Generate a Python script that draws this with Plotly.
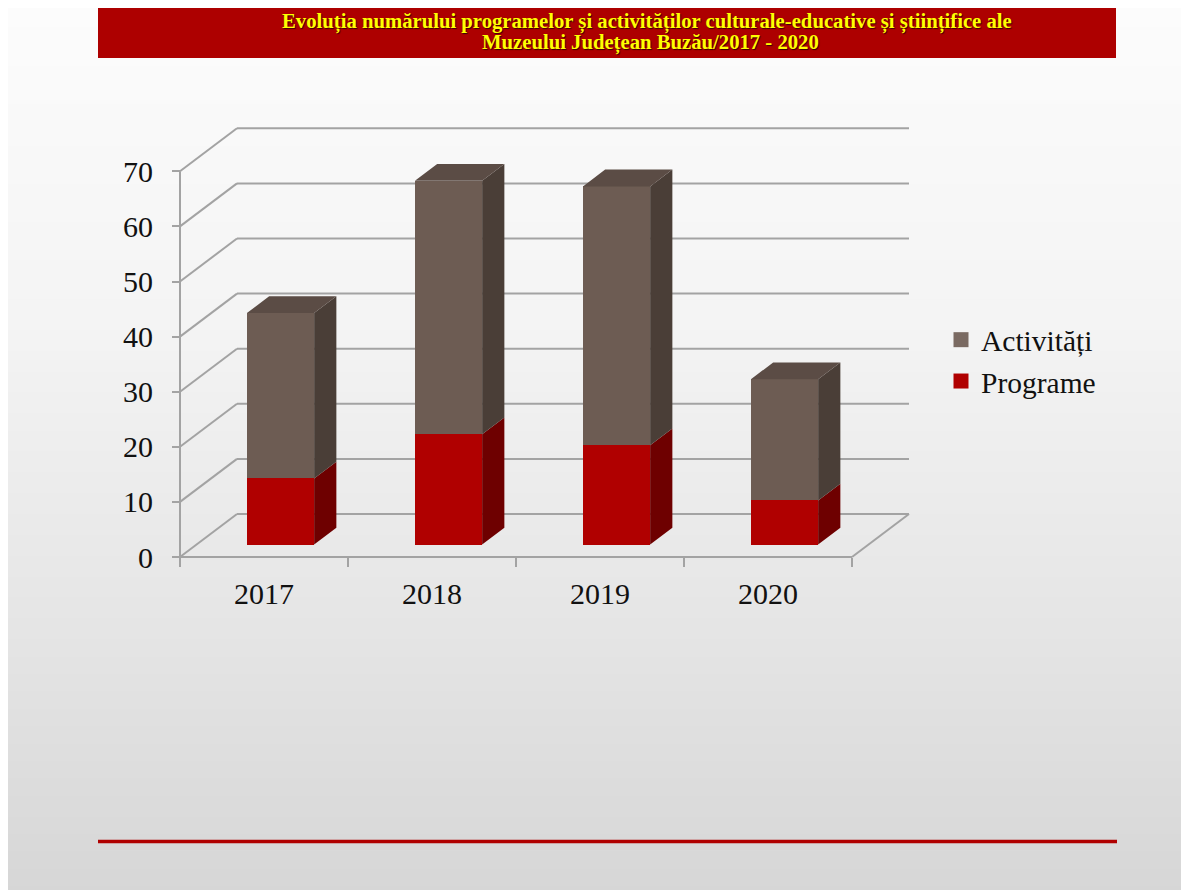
import struct, zlib, base64
import plotly.graph_objects as go

# ---------------- data ----------------
years = ["2017", "2018", "2019", "2020"]
programe = [12, 20, 18, 8]
activitati = [30, 46, 47, 22]
y_ticks = [0, 10, 20, 30, 40, 50, 60, 70]
title_lines = ["Evoluția numărului programelor și activităților culturale-educative și științifice ale",
               "Muzeului Județean Buzău/2017 - 2020"]

# ---------------- geometry / style ----------------
W_PX, H_PX = 1189, 890
OFF = 8.0         # page body margin: figure pixel = screen pixel - OFF
PX_X = 168.0      # pixels per category
PX_Y = 5.51       # pixels per value unit
ORIG_X, ORIG_Y = 180.0 - OFF, 557.0 - OFF   # front-axis origin (figure px)
DX = 57.0 / PX_X  # back-wall shift (x units)
DY = 43.0 / PX_Y  # back-wall shift (y units)
ZF = 0.29         # depth of bar front faces
ZD = 0.39         # bar depth
BW = 0.40         # bar width (category units)

C_ACT, C_ACT_SIDE, C_ACT_TOP = "#6d5c53", "#4a3e37", "#5b4c45"
C_PRO, C_PRO_SIDE = "#b00000", "#6e0000"
GRID = "#a3a3a3"
FONT = "Liberation Serif, Times New Roman, serif"


def sx(px):  # screen x -> paper
    return (px - OFF) / W_PX


def sy(py):  # screen y -> paper
    return 1 - (py - OFF) / H_PX


def gradient_png(stops, h=256):
    rows = []
    for r in range(h):
        t = r / (h - 1)
        for k in range(len(stops) - 1):
            t0, c0 = stops[k]
            t1, c1 = stops[k + 1]
            if t0 <= t <= t1:
                f = (t - t0) / (t1 - t0) if t1 > t0 else 0
                c = [int(round(c0[j] + (c1[j] - c0[j]) * f)) for j in range(3)]
                break
        rows.append(b"\x00" + bytes(c) * 2)
    raw = b"".join(rows)

    def chunk(tag, data):
        return (struct.pack(">I", len(data)) + tag + data +
                struct.pack(">I", zlib.crc32(tag + data) & 0xffffffff))

    png = (b"\x89PNG\r\n\x1a\n" +
           chunk(b"IHDR", struct.pack(">IIBBBBB", 2, h, 8, 2, 0, 0, 0)) +
           chunk(b"IDAT", zlib.compress(raw)) + chunk(b"IEND", b""))
    return "data:image/png;base64," + base64.b64encode(png).decode()


bg_uri = gradient_png([(0.0, (252, 252, 252)), (0.35, (244, 244, 244)),
                       (0.7, (229, 229, 229)), (1.0, (214, 214, 214))])

fig = go.Figure()

# front faces (bars)
n = len(years)
cx = [i + 0.5 + ZF * DX for i in range(n)]
base0 = ZF * DY
fig.add_trace(go.Bar(x=cx, y=programe, base=[base0] * n, width=BW,
                     marker=dict(color=C_PRO, line=dict(width=0)),
                     showlegend=False, hoverinfo="skip"))
fig.add_trace(go.Bar(x=cx, y=activitati, base=[base0 + p for p in programe], width=BW,
                     marker=dict(color=C_ACT, line=dict(width=0)),
                     showlegend=False, hoverinfo="skip"))


def side_poly(xr, b, t):
    return ([xr, xr + ZD * DX, xr + ZD * DX, xr, xr, None],
            [b, b + ZD * DY, t + ZD * DY, t, b, None])


sx_p, sy_p, sx_a, sy_a, tx, ty = [], [], [], [], [], []
for i in range(n):
    xr = cx[i] + BW / 2
    xl = cx[i] - BW / 2
    b0 = base0
    t0 = base0 + programe[i]
    t1 = t0 + activitati[i]
    a, b = side_poly(xr, b0, t0)
    sx_p += a; sy_p += b
    a, b = side_poly(xr, t0, t1)
    sx_a += a; sy_a += b
    tx += [xl, xl + ZD * DX, xr + ZD * DX, xr, xl, None]
    ty += [t1, t1 + ZD * DY, t1 + ZD * DY, t1, t1, None]

for xs, ys, col in [(sx_p, sy_p, C_PRO_SIDE), (sx_a, sy_a, C_ACT_SIDE), (tx, ty, C_ACT_TOP)]:
    fig.add_trace(go.Scatter(x=xs, y=ys, mode="lines", fill="toself", fillcolor=col,
                             line=dict(width=0, color=col), showlegend=False,
                             hoverinfo="skip"))

# legend entries
fig.add_trace(go.Scatter(x=[None], y=[None], mode="markers", name="Activități",
                         legendgroup="a",
                         marker=dict(symbol="square", size=15, color="#7a6a62")))
fig.add_trace(go.Scatter(x=[None], y=[None], mode="markers", name="Programe",
                         legendgroup="p",
                         marker=dict(symbol="square", size=15, color=C_PRO)))

# walls / gridlines (below traces)
shapes = []
ymax = y_ticks[-1]
for v in y_ticks:
    shapes.append(dict(type="line", xref="x", yref="y", layer="below",
                       x0=DX, y0=v + DY, x1=n + DX, y1=v + DY,
                       line=dict(color=GRID, width=2)))
    shapes.append(dict(type="line", xref="x", yref="y", layer="below",
                       x0=0, y0=v, x1=DX, y1=v + DY,
                       line=dict(color=GRID, width=2)))
shapes.append(dict(type="line", xref="x", yref="y", layer="below",
                   x0=n, y0=0, x1=n + DX, y1=DY, line=dict(color=GRID, width=2)))
shapes.append(dict(type="line", xref="x", yref="y", layer="below",
                   x0=0, y0=0, x1=0, y1=ymax, line=dict(color=GRID, width=2)))
shapes.append(dict(type="line", xref="x", yref="y", layer="below",
                   x0=0, y0=0, x1=n, y1=0, line=dict(color=GRID, width=2)))

# title band & bottom rule
shapes.append(dict(type="rect", xref="paper", yref="paper", layer="above",
                   x0=sx(98), x1=sx(1116), y0=sy(58), y1=1.01,
                   fillcolor="#ad0000", line=dict(width=0)))
shapes.append(dict(type="line", xref="paper", yref="paper", layer="above",
                   x0=sx(98), x1=sx(1117), y0=sy(841.5), y1=sy(841.5),
                   line=dict(color="#b00000", width=3.5)))

title_font = dict(family=FONT, size=20.7, color="#ffff00", weight="bold",
                  shadow="1px 1px 1px #3a0000")
annotations = [
    dict(text=title_lines[0], xref="paper", yref="paper", x=sx(647), y=sy(21.5),
         xanchor="center", yanchor="middle", showarrow=False, font=title_font),
    dict(text=title_lines[1], xref="paper", yref="paper", x=sx(650), y=sy(43),
         xanchor="center", yanchor="middle", showarrow=False, font=title_font),
]

x_range = [-ORIG_X / PX_X, (W_PX - ORIG_X) / PX_X]
y_range = [(ORIG_Y - H_PX) / PX_Y, ORIG_Y / PX_Y]

fig.update_layout(
    width=W_PX, height=H_PX,
    margin=dict(l=0, r=0, t=0, b=0, pad=0),
    paper_bgcolor="#eeeeee", plot_bgcolor="rgba(0,0,0,0)",
    barmode="overlay", bargap=0,
    shapes=shapes,
    images=[dict(source=bg_uri, xref="paper", yref="paper", x=0, y=1,
                 sizex=1, sizey=1, sizing="stretch", layer="below",
                 xanchor="left", yanchor="top")],
    annotations=annotations,
    legend=dict(x=sx(941), y=sy(314), xanchor="left", yanchor="top",
                bgcolor="rgba(0,0,0,0)", traceorder="normal", tracegroupgap=8,
                font=dict(family=FONT, size=29.5, color="#111111")),
    xaxis=dict(range=x_range, anchor="free", position=1 - ORIG_Y / H_PX,
               tickvals=[i + 0.5 for i in range(n)], ticktext=years,
               ticks="", showgrid=False, zeroline=False, showline=False,
               tickfont=dict(family=FONT, size=30, color="#111111"),
               ticklabelstandoff=16, automargin=False, fixedrange=True,
               minor=dict(tickvals=list(range(n + 1)), ticks="outside", ticklen=9,
                          tickcolor=GRID, tickwidth=2, showgrid=False)),
    yaxis=dict(range=y_range, anchor="free", position=ORIG_X / W_PX, side="left",
               tickvals=y_ticks, ticks="outside", ticklen=8, tickcolor=GRID, tickwidth=2,
               showgrid=False, zeroline=False, showline=False,
               tickfont=dict(family=FONT, size=30, color="#111111"),
               ticklabelstandoff=13, automargin=False, fixedrange=True),
)

fig.write_html("out.html")
